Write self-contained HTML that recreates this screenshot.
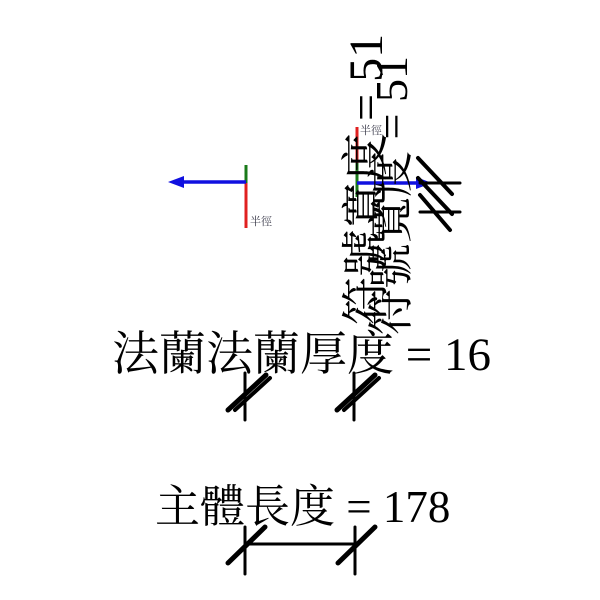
<!DOCTYPE html>
<html><head><meta charset="utf-8"><style>body{margin:0;background:#fff}svg{display:block}</style></head><body>
<svg width="600" height="600" xmlns="http://www.w3.org/2000/svg" font-family="'Liberation Serif','Noto Serif CJK SC',serif">
<rect width="600" height="600" fill="#fff"/>
<!-- left marker -->
<line x1="246" y1="165" x2="246" y2="183" stroke="#1a7a1a" stroke-width="3"/>
<line x1="246" y1="183" x2="246" y2="228" stroke="#e02020" stroke-width="3"/>
<line x1="246" y1="182" x2="180" y2="182" stroke="#1010e0" stroke-width="3.5"/>
<polygon points="168,182 184,176 184,188" fill="#1010e0"/>
<text x="250" y="225" font-size="11" fill="#334">半徑</text>
<!-- right marker -->
<line x1="357" y1="127" x2="357" y2="163" stroke="#e02020" stroke-width="3"/>
<line x1="357" y1="163" x2="357" y2="197" stroke="#1a7a1a" stroke-width="3"/>
<line x1="357" y1="183" x2="420" y2="183" stroke="#1010e0" stroke-width="3.5"/>
<polygon points="432,183 416,177 416,189" fill="#1010e0"/>
<text x="360" y="134" font-size="11" fill="#334">半徑</text>
<!-- rotated hash -->
<g stroke="#000" stroke-width="4" stroke-linecap="round">
<line x1="420" y1="183" x2="460" y2="183" stroke-width="3"/>
<line x1="420" y1="212" x2="460" y2="212" stroke-width="3"/>
<line x1="418" y1="158" x2="452" y2="194"/>
<line x1="418" y1="178" x2="452" y2="214"/>
<line x1="420" y1="195" x2="450" y2="230"/>
</g>
<!-- rotated labels -->
<text transform="translate(382,325) rotate(-90)" font-size="48">符號寬度 = 51</text>
<text transform="translate(407,335) rotate(-90)" font-size="46">符號寬度 = 51</text>
<!-- flange -->
<text x="112" y="370" font-size="47">法蘭法蘭厚度 = 16</text>
<g stroke="#000" stroke-linecap="round">
<line x1="245" y1="373" x2="245" y2="420" stroke-width="3"/>
<line x1="354" y1="373" x2="354" y2="420" stroke-width="3"/>
<line x1="228" y1="410" x2="266" y2="375" stroke-width="5"/>
<line x1="235" y1="410" x2="270" y2="378" stroke-width="4"/>
<line x1="337" y1="410" x2="375" y2="375" stroke-width="5"/>
<line x1="344" y1="410" x2="379" y2="378" stroke-width="4"/>
</g>
<!-- body length -->
<text x="155" y="522" font-size="45">主體長度 = 178</text>
<g stroke="#000" stroke-linecap="round">
<line x1="245" y1="527" x2="245" y2="574" stroke-width="3"/>
<line x1="355" y1="527" x2="355" y2="574" stroke-width="3"/>
<line x1="245" y1="544" x2="355" y2="544" stroke-width="3"/>
<line x1="228" y1="563" x2="265" y2="527" stroke-width="5"/>
<line x1="338" y1="563" x2="375" y2="527" stroke-width="5"/>
</g>
</svg>
</body></html>
